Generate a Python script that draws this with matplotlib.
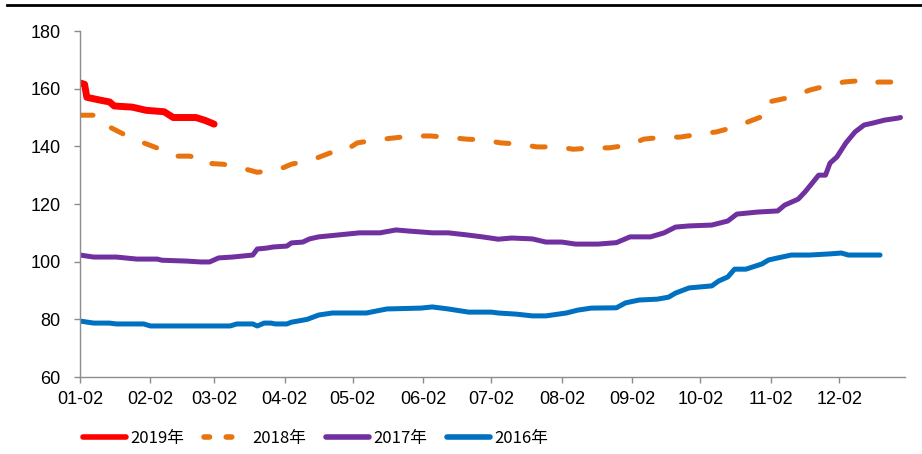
import numpy as np
import pandas as pd
import matplotlib
matplotlib.use('Agg')
import matplotlib.pyplot as plt
from matplotlib.lines import Line2D

plt.rcParams['font.family'] = ['Liberation Sans', 'Noto Sans CJK SC', 'DejaVu Sans']

# days counted from 01-02
days_2019 = [0, 2, 3, 9, 13, 15, 23, 29, 37, 41, 51, 55, 59]
vals_2019 = [162, 161.5, 157, 156, 155.4, 154, 153.6, 152.5, 152, 150, 150, 149, 147.7]

days_2018 = [0, 8, 13, 19, 27, 34, 41, 48, 57, 58, 63, 71, 78, 87, 93, 102, 110, 115,
             122, 130, 138, 146, 154, 161, 170, 178, 185, 193, 201, 210, 217, 225, 233,
             242, 248, 257, 264, 273, 280, 288, 295, 302, 303, 313, 321, 328, 336, 342,
             343, 352, 361]
vals_2018 = [150.8, 150.8, 146.7, 144.3, 141.5, 139.4, 136.6, 136.6, 135.5, 134, 133.8,
             132.5, 131, 131.8, 133.8, 135.3, 137.7, 137.7, 141.2, 142.2, 142.9, 143.6,
             143.6, 143.2, 142.5, 142.2, 141.2, 140.8, 139.8, 139.8, 139, 139.4, 139.5,
             140.5, 142.5, 143.2, 143.2, 144.3, 145, 146.7, 148.8, 150.9, 155.4, 157.1,
             159.5, 160.9, 162.3, 162.7, 162, 162.3, 162.3]

days_2017 = [0, 6, 16, 25, 34, 36, 47, 53, 57, 61, 67, 76, 78, 82, 85, 91, 93, 98, 101,
             105, 114, 123, 132, 139, 145, 155, 162, 170, 177, 184, 190, 199, 205, 212,
             218, 228, 236, 242, 251, 257, 262, 268, 278, 285, 289, 298, 307, 310, 316,
             319, 325, 328, 330, 333, 337, 341, 345, 349, 354, 360, 361]
vals_2017 = [102.3, 101.6, 101.6, 100.9, 100.9, 100.5, 100.2, 99.9, 99.9, 101.3, 101.6,
             102.3, 104.4, 104.7, 105.1, 105.4, 106.5, 106.8, 107.9, 108.6, 109.3, 110,
             110, 111, 110.6, 110, 110, 109.3, 108.6, 107.8, 108.2, 107.9, 106.8, 106.8,
             106.1, 106.1, 106.6, 108.6, 108.6, 110, 112, 112.4, 112.7, 114.1, 116.5,
             117.2, 117.6, 119.6, 121.7, 124.2, 130, 130, 134.2, 136.3, 141.2, 145,
             147.4, 148.1, 149.1, 149.8, 150]

days_2016 = [0, 6, 13, 16, 28, 31, 66, 69, 76, 78, 81, 84, 86, 91, 93, 100, 105, 111,
             126, 135, 150, 155, 162, 171, 181, 184, 192, 199, 205, 214, 219, 225, 236,
             240, 246, 254, 259, 262, 268, 278, 281, 285, 288, 293, 300, 303, 307, 313,
             321, 330, 335, 338, 352]
vals_2016 = [79.4, 78.7, 78.7, 78.4, 78.4, 77.7, 77.7, 78.4, 78.4, 77.7, 78.7, 78.7, 78.4,
             78.4, 79, 80, 81.5, 82.2, 82.2, 83.6, 83.9, 84.3, 83.6, 82.5, 82.5, 82.2,
             81.8, 81.2, 81.2, 82.2, 83.2, 83.9, 84, 85.7, 86.7, 87, 87.7, 89.1, 90.9,
             91.6, 93.3, 94.7, 97.4, 97.4, 99.2, 100.6, 101.3, 102.3, 102.3, 102.7, 103,
             102.3, 102.3]

tick_labels = ['01-02', '02-02', '03-02', '04-02', '05-02', '06-02',
               '07-02', '08-02', '09-02', '10-02', '11-02', '12-02']

start = pd.Timestamp('2018-01-02')
def to_dates(d):
    return start + pd.to_timedelta(np.array(d), unit='D')

tick_dates = pd.to_datetime(['2018-' + t for t in tick_labels])

fig = plt.figure(figsize=(9.22, 4.54), dpi=100)
ax = fig.add_axes([0.0868, 0.1696, 0.8948, 0.7621])

ax.plot(to_dates(days_2016), vals_2016, color='#0070C0', lw=3.6,
        solid_capstyle='round', solid_joinstyle='round', label='2016年')
ax.plot(to_dates(days_2017), vals_2017, color='#7030A0', lw=3.6,
        solid_capstyle='round', solid_joinstyle='round', label='2017年')
ax.plot(to_dates(days_2018), vals_2018, color='#E8740F', lw=3.6,
        dashes=(2.6, 4.7), dash_capstyle='round', label='2018年')
ax.plot(to_dates(days_2019), vals_2019, color='#FF0000', lw=5,
        solid_capstyle='round', solid_joinstyle='round', label='2019年')

ax.set_ylim(60, 180)
ax.set_yticks(np.arange(60, 181, 20))
ax.set_xlim(start, start + pd.Timedelta(days=363))
ax.set_xticks(tick_dates)
ax.set_xticklabels(tick_labels)

for s in ['top', 'right']:
    ax.spines[s].set_visible(False)
for s in ['left', 'bottom']:
    ax.spines[s].set_color('#8C8C8C')
    ax.spines[s].set_linewidth(1)
ax.tick_params(axis='both', colors='#8C8C8C', labelcolor='black', labelsize=13,
               length=4, width=1, direction='out')
ax.tick_params(axis='x', pad=6)
ax.tick_params(axis='y', pad=10)

handles, labels = ax.get_legend_handles_labels()
order = [3, 2, 1, 0]
leg = fig.legend([handles[i] for i in order], [labels[i] for i in order],
                 loc='center left', bbox_to_anchor=(0.09, 0.035), ncol=4, frameon=False,
                 prop={'family': ['Liberation Sans Narrow', 'Noto Sans CJK SC'], 'size': 12},
                 handlelength=2.6, handletextpad=0.25, columnspacing=1.2,
                 borderaxespad=0, borderpad=0)
for h in leg.legend_handles:
    h.set_linewidth(4)
leg.legend_handles[1].set_dashes((1.0, 3.0))

fig.add_artist(Line2D([0.008, 1.0], [0.988, 0.988], color='black', lw=2,
                      transform=fig.transFigure))

fig.savefig('out.png', dpi=100)
